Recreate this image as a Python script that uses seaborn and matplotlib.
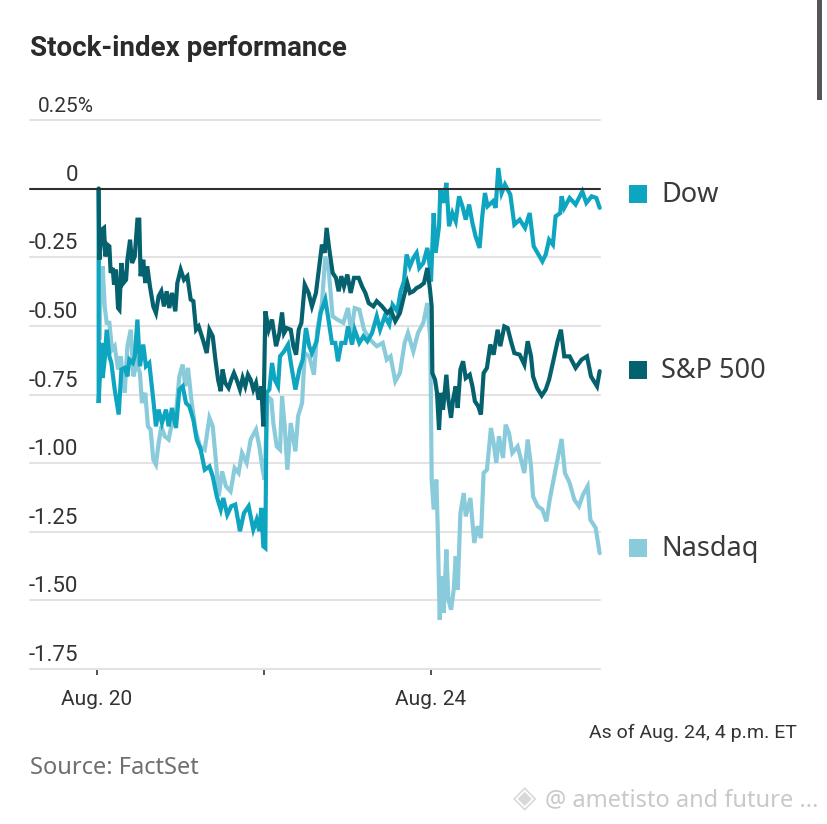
import matplotlib
matplotlib.use("Agg")
import matplotlib.pyplot as plt
from matplotlib.patches import Rectangle
import pandas as pd
import seaborn as sns

sp_t = [.010,.014,.030,.042,.050,.062,.074,.082,.094,.102,.114,.126,.134,.146,.158,.174,.182,.198,.210,.226,.242,.253,.261,.277,.289,.301,.317,.337,.353,.369,.385,.401,.417,.433,.449,.469,.481,.501,.521,.541,.561,.577,.593,.609,.637,.657,.673,.693,.709,.725,.741,.752,.768,.788,.804,.820,.836,.856,.872,.888,.904,.920,.936,.952,.968,.984,.996,
        1.008,1.028,1.048,1.072,1.092,1.108,1.120,1.136,1.160,1.176,1.192,1.208,1.224,1.244,1.267,1.287,1.311,1.331,1.347,1.363,1.375,1.391,1.411,1.431,1.447,1.463,1.479,1.499,1.519,1.539,1.567,1.587,1.607,1.627,1.655,1.675,1.707,1.739,1.758,1.786,1.814,1.838,1.858,1.874,1.894,1.914,1.934,1.958,1.978,1.994,2.004,
        2.008,2.024,2.036,2.048,2.060,2.072,2.092,2.104,2.120,2.132,2.148,2.160,2.176,2.192,2.208,2.232,2.248,2.263,2.283,2.299,2.315,2.335,2.355,2.375,2.399,2.415,2.439,2.459,2.479,2.499,2.531,2.559,2.579,2.599,2.611,2.635,2.663,2.687,2.707,2.734,2.758,2.778,2.798,2.830,2.866,2.902,2.934,2.958,2.994,3.010]
sp_v = [0,-.259,-.149,-.143,-.247,-.204,-.210,-.307,-.289,-.350,-.295,-.435,-.441,-.271,-.344,-.332,-.259,-.186,-.271,-.247,-.113,-.113,-.319,-.259,-.344,-.283,-.356,-.429,-.453,-.392,-.374,-.429,-.374,-.435,-.380,-.447,-.344,-.295,-.332,-.319,-.404,-.410,-.514,-.502,-.556,-.599,-.514,-.538,-.623,-.696,-.738,-.659,-.708,-.726,-.696,-.672,-.696,-.732,-.690,-.720,-.678,-.696,-.732,-.708,-.769,-.720,-.866,
        -.447,-.514,-.477,-.574,-.526,-.451,-.526,-.508,-.514,-.574,-.605,-.514,-.489,-.350,-.380,-.429,-.380,-.283,-.204,-.234,-.143,-.222,-.307,-.325,-.374,-.319,-.356,-.313,-.380,-.325,-.325,-.356,-.380,-.417,-.429,-.410,-.429,-.453,-.441,-.483,-.453,-.392,-.344,-.380,-.374,-.362,-.356,-.344,-.289,-.368,-.429,
        -.672,-.696,-.744,-.878,-.744,-.805,-.678,-.769,-.835,-.769,-.720,-.799,-.659,-.629,-.690,-.678,-.720,-.775,-.793,-.823,-.672,-.653,-.568,-.605,-.514,-.574,-.502,-.508,-.556,-.599,-.605,-.641,-.556,-.611,-.684,-.726,-.754,-.732,-.696,-.623,-.556,-.514,-.611,-.611,-.653,-.623,-.611,-.684,-.720,-.665]

dow_t = [.010,.010,.026,.034,.046,.058,.074,.086,.106,.130,.146,.166,.182,.194,.214,.226,.242,.257,.277,.293,.313,.337,.353,.369,.389,.413,.429,.449,.473,.493,.513,.533,.553,.577,.597,.621,.645,.673,.693,.717,.741,.756,.780,.804,.828,.856,.880,.908,.936,.956,.972,.984,.996,1.008,
         1.016,1.032,1.048,1.064,1.084,1.096,1.120,1.144,1.164,1.188,1.212,1.232,1.251,1.271,1.287,1.315,1.339,1.367,1.383,1.407,1.427,1.443,1.463,1.487,1.503,1.527,1.543,1.571,1.595,1.619,1.647,1.675,1.695,1.723,1.750,1.770,1.798,1.818,1.838,1.854,1.874,1.894,1.914,1.930,1.954,1.978,1.998,
         2.000,2.016,2.028,2.048,2.056,2.076,2.092,2.108,2.128,2.148,2.168,2.188,2.208,2.228,2.248,2.267,2.291,2.307,2.323,2.339,2.371,2.387,2.403,2.423,2.443,2.475,2.499,2.531,2.563,2.591,2.615,2.643,2.667,2.687,2.707,2.730,2.746,2.774,2.782,2.798,2.830,2.866,2.906,2.930,2.962,2.990,3.010]
dow_v = [0,-.781,-.562,-.690,-.623,-.514,-.611,-.635,-.732,-.823,-.659,-.653,-.684,-.623,-.635,-.611,-.477,-.647,-.568,-.647,-.635,-.769,-.866,-.805,-.854,-.805,-.866,-.799,-.872,-.732,-.720,-.781,-.793,-.842,-.914,-.951,-1.024,-1.012,-1.048,-1.121,-1.169,-1.127,-1.188,-1.157,-1.151,-1.248,-1.182,-1.157,-1.242,-1.206,-1.248,-1.163,-1.303,-1.309,
         -.744,-.732,-.635,-.696,-.720,-.611,-.593,-.568,-.647,-.732,-.659,-.623,-.508,-.574,-.599,-.556,-.453,-.404,-.465,-.562,-.562,-.629,-.562,-.562,-.502,-.568,-.514,-.562,-.538,-.556,-.526,-.465,-.514,-.465,-.495,-.423,-.447,-.374,-.338,-.240,-.283,-.253,-.234,-.289,-.271,-.216,-.307,
         -.338,-.089,-.234,-.137,-.004,-.052,.021,-.137,-.089,-.119,-.028,-.064,-.113,-.058,-.125,-.174,-.216,-.101,-.016,-.064,-.046,-.070,.075,-.016,.015,-.022,-.131,-.113,-.143,-.089,-.210,-.240,-.265,-.240,-.186,-.204,-.101,-.089,-.028,-.070,-.034,-.058,-.010,-.052,-.028,-.034,-.070]

nas_t = [.010,.014,.022,.034,.046,.058,.074,.090,.106,.126,.142,.166,.182,.202,.218,.238,.257,.269,.289,.305,.321,.337,.353,.369,.385,.405,.429,.453,.473,.493,.513,.529,.545,.565,.589,.617,.645,.673,.693,.713,.729,.749,.772,.800,.824,.848,.868,.896,.920,.952,.972,.992,
         1.004,1.020,1.044,1.056,1.076,1.096,1.108,1.124,1.140,1.160,1.188,1.204,1.228,1.244,1.271,1.299,1.319,1.347,1.367,1.387,1.411,1.439,1.475,1.503,1.523,1.543,1.571,1.599,1.635,1.675,1.711,1.735,1.758,1.786,1.814,1.842,1.862,1.894,1.922,1.954,1.978,
         1.996,2.004,2.016,2.032,2.040,2.052,2.064,2.076,2.092,2.104,2.120,2.136,2.148,2.160,2.176,2.196,2.208,2.236,2.259,2.279,2.299,2.315,2.335,2.359,2.375,2.391,2.407,2.431,2.447,2.467,2.487,2.519,2.559,2.579,2.599,2.611,2.639,2.667,2.691,2.711,2.734,2.758,2.782,2.802,2.830,2.858,2.886,2.910,2.938,2.954,2.986,3.010]
nas_v = [0,-.550,-.356,-.283,-.429,-.489,-.489,-.587,-.574,-.659,-.611,-.744,-.574,-.514,-.684,-.635,-.672,-.781,-.744,-.866,-.878,-.987,-1.005,-.927,-.866,-.902,-.914,-.842,-.817,-.684,-.641,-.720,-.653,-.769,-.878,-.939,-.951,-.835,-.866,-.999,-1.121,-1.030,-1.084,-1.103,-1.018,-1.036,-.963,-.999,-.914,-.878,-.939,-1.024,
         -1.060,-.757,-.769,-.854,-.939,-.951,-.757,-.866,-1.024,-.854,-.957,-.829,-.781,-.599,-.611,-.678,-.514,-.417,-.247,-.295,-.465,-.477,-.489,-.435,-.526,-.435,-.441,-.514,-.550,-.574,-.562,-.623,-.611,-.702,-.672,-.562,-.526,-.593,-.526,-.489,-.417,
         -.550,-1.060,-1.169,-1.060,-1.230,-1.570,-1.412,-1.546,-1.315,-1.497,-1.534,-1.461,-1.339,-1.461,-1.182,-1.109,-1.194,-1.127,-1.291,-1.230,-1.273,-1.036,-1.024,-.872,-.927,-.999,-.902,-.981,-.860,-.890,-.963,-.939,-1.036,-.914,-1.012,-1.121,-1.157,-1.169,-1.212,-1.133,-1.060,-.987,-.912,-1.036,-1.072,-1.133,-1.157,-1.115,-1.084,-1.206,-1.236,-1.328]

names = ["Nasdaq", "Dow", "S&P 500"]
palette = {"Dow": "#0ea5c0", "S&P 500": "#05616e", "Nasdaq": "#8acbdb"}
y_ticks = [0.25, 0, -0.25, -0.5, -0.75, -1.0, -1.25, -1.5, -1.75]
y_labels = ["0.25%", "0", "-0.25", "-0.50", "-0.75", "-1.00", "-1.25", "-1.50", "-1.75"]
x_ticks = [0, 1, 2]
x_labels = ["Aug. 20", "", "Aug. 24"]

df = pd.concat([
    pd.DataFrame({"t": nas_t, "v": nas_v, "idx": "Nasdaq"}),
    pd.DataFrame({"t": dow_t, "v": dow_v, "idx": "Dow"}),
    pd.DataFrame({"t": sp_t, "v": sp_v, "idx": "S&P 500"}),
])

sns.set_style("white")
plt.rcParams["font.family"] = ["Roboto", "DejaVu Sans"]
WIDE = ["Noto Sans", "DejaVu Sans"]

W, H = 828, 824
fig = plt.figure(figsize=(W / 100, H / 100), dpi=100, facecolor="white")
L, R, T, B = 30, 600, 120, 669
ax = fig.add_axes([L / W, 1 - B / H, (R - L) / W, (B - T) / H])
ax.set_facecolor("none")

sns.lineplot(data=df, x="t", y="v", hue="idx", hue_order=names, palette=palette,
             estimator=None, sort=False, linewidth=3.0, legend=False, ax=ax, zorder=3)
for line in ax.get_lines():
    line.set_solid_joinstyle("miter")
    line.set_clip_on(False)

ax.set_xlim((L - 97) / 167, (R - 97) / 167)
ax.set_ylim(-1.75, 0.25)
sns.despine(ax=ax, left=True, bottom=True, top=True, right=True)
ax.set_xlabel("")
ax.set_ylabel("")
ax.set_yticks(y_ticks)
ax.set_yticklabels([])
ax.tick_params(axis="y", length=0)
ax.grid(False)
for v in y_ticks:
    ax.axhline(v, color="#2f2f2f" if v == 0 else "#e3e3e3", lw=1.5, zorder=4 if v == 0 else 1, clip_on=False)

ax.set_xticks(x_ticks)
ax.set_xticklabels([])
ax.tick_params(axis="x", length=4, width=1.2, color="#333333", bottom=True, direction="out", pad=0)

def px_x(x): return x / W
def px_y(y): return 1 - y / H

for val, lab in zip(y_ticks, y_labels):
    py = T + (0.25 - val) / 2.0 * (B - T)
    if lab == "0.25%":
        fig.text(px_x(38), px_y(py - 4), lab, ha="left", va="bottom", fontsize=15, color="#333333")
    else:
        fig.text(px_x(78), px_y(py - 3), lab, ha="right", va="bottom", fontsize=16, color="#333333")

for val, lab in zip(x_ticks, x_labels):
    if lab:
        ax.annotate(lab, (val, 0), xycoords=ax.get_xaxis_transform(), xytext=(0, -15),
                    textcoords="offset points", ha="center", va="top", fontsize=15, color="#333333")

fig.text(px_x(30), px_y(48), "Stock-index performance", fontsize=20, fontweight="bold",
         color="#2b2b2b", va="center", ha="left")
fig.text(px_x(797), px_y(733), "As of Aug. 24, 4 p.m. ET", fontsize=14, color="#333333", ha="right", va="center")
fig.text(px_x(30), px_y(768), "Source: FactSet", fontsize=17, family=WIDE,
         color="#6f6f6f", ha="left", va="center")

for name, y in [("Dow", 194), ("S&P 500", 370), ("Nasdaq", 548)]:
    fig.add_artist(Rectangle((px_x(629), px_y(y + 9)), 18 / W, 18 / H, transform=fig.transFigure,
                             facecolor=palette[name], edgecolor="none"))
    fig.text(px_x(661), px_y(y + 1), name, fontsize=19.5, family=WIDE,
             color="#3a3a3a", ha="left", va="center")

# screenshot overlays: watermark and scroll handle
fig.text(px_x(545), px_y(800), "@ ametisto and future ...", fontsize=17, family=WIDE,
         color="#c9c9c9", ha="left", va="center")
fig.text(px_x(525), px_y(799), "\u25C8", fontsize=22, family=["DejaVu Sans"], color="#d8d8d8", ha="center", va="center")
fig.add_artist(Rectangle((px_x(817), px_y(100)), 5 / W, 100 / H, transform=fig.transFigure,
                         facecolor="#555555", edgecolor="none"))

fig.savefig("out.png", dpi=100, facecolor="white")
